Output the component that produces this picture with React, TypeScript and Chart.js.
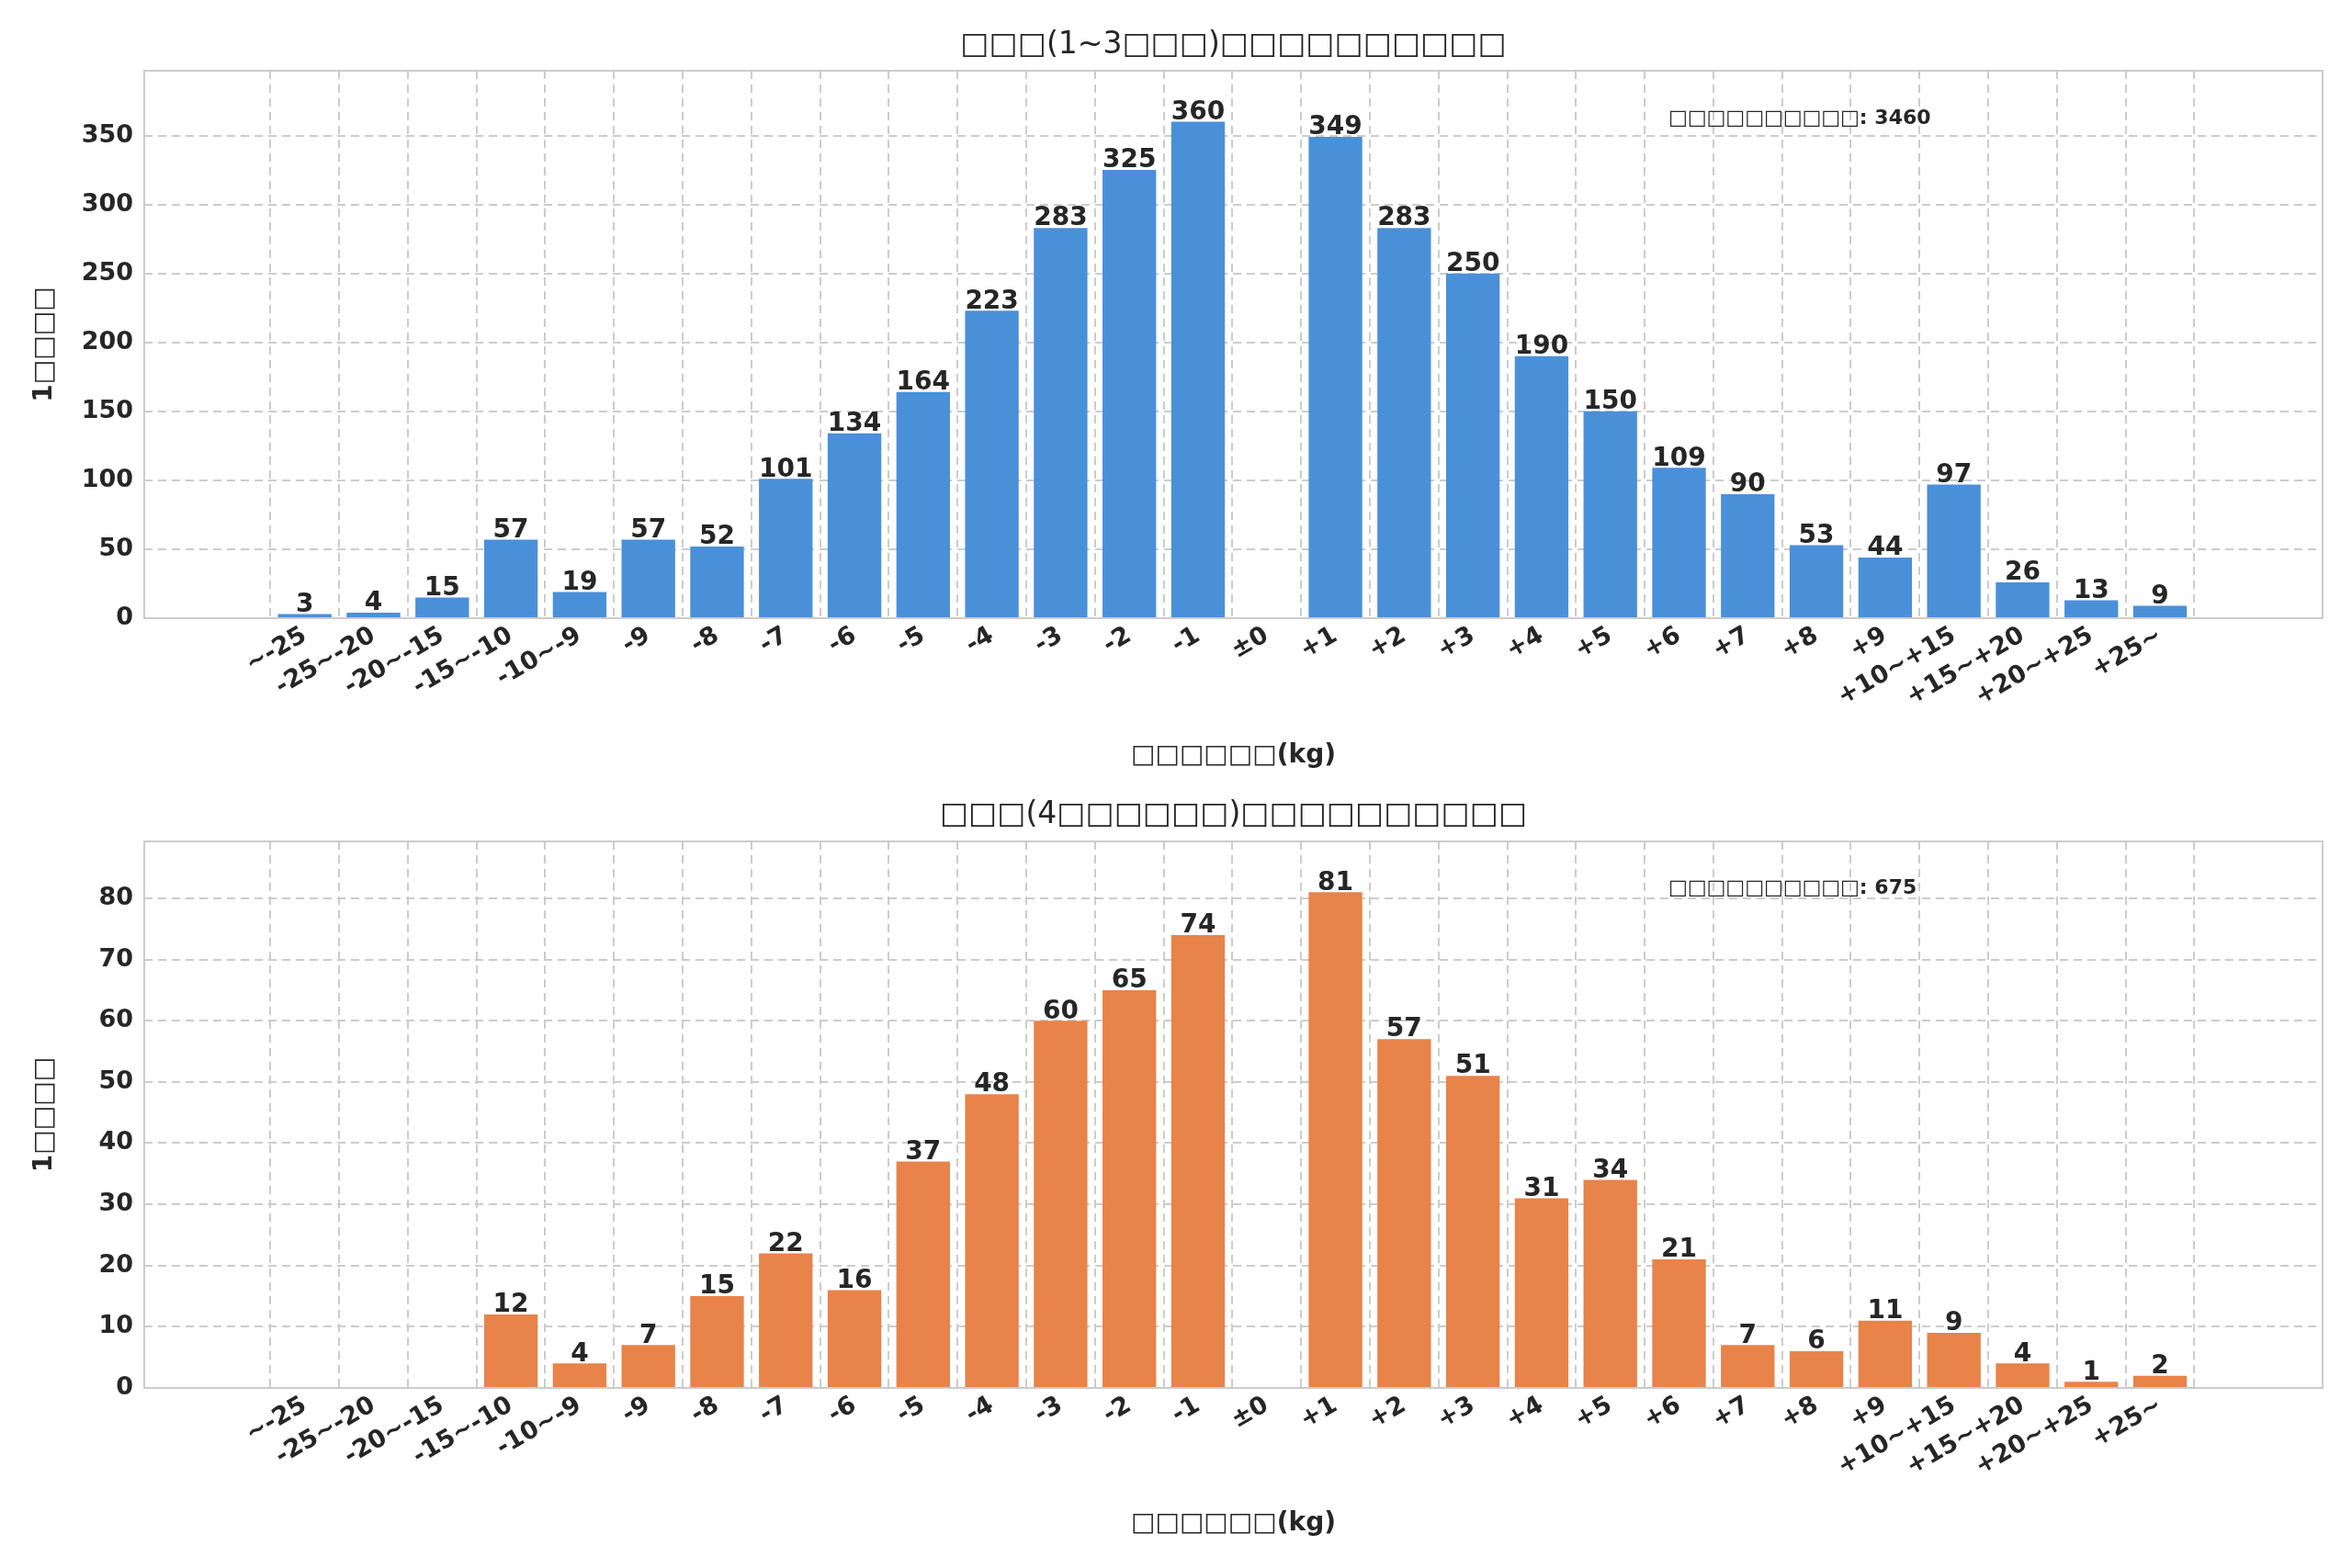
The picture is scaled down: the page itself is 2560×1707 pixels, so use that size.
import React, { useEffect, useRef } from "react";
import { Chart, registerables } from "chart.js";
Chart.register(...registerables);

const categories = ["~-25","-25~-20","-20~-15","-15~-10","-10~-9","-9","-8","-7","-6","-5","-4","-3","-2","-1","±0","+1","+2","+3","+4","+5","+6","+7","+8","+9","+10~+15","+15~+20","+20~+25","+25~"];
const topValues = [3,4,15,57,19,57,52,101,134,164,223,283,325,360,0,349,283,250,190,150,109,90,53,44,97,26,13,9];
const bottomValues = [0,0,0,12,4,7,15,22,16,37,48,60,65,74,0,81,57,51,31,34,21,7,6,11,9,4,1,2];
const topTitle = "□□□(1~3□□□)□□□□□□□□□□";
const bottomTitle = "□□□(4□□□□□□)□□□□□□□□□□";
const xTitle = "□□□□□□(kg)";
const yTitle = "1□□□□";
const topNote = "□□□□□□□□□□: 3460";
const bottomNote = "□□□□□□□□□□: 675";

const FONT = "'DejaVu Sans', sans-serif";

function makeConfig(values: number[], color: string, ymax: number, stepY: number, title: string, note: string, o: any) {
  const overlay = {
    id: "overlay",
    afterDatasetsDraw(chart: any) {
      const ctx = chart.ctx;
      const a = chart.chartArea;
      const meta = chart.getDatasetMeta(0);
      ctx.save();
      ctx.fillStyle = "#262626";
      ctx.font = `bold 28px ${FONT}`;
      ctx.textAlign = "center";
      ctx.textBaseline = "bottom";
      meta.data.forEach((el: any, i: number) => {
        if (values[i] > 0) ctx.fillText(String(values[i]), el.x, el.y + 4);
      });
      ctx.strokeStyle = "#cccccc";
      ctx.lineWidth = 2;
      ctx.strokeRect(a.left, a.top, a.right - a.left, a.bottom - a.top);
      ctx.font = `33px ${FONT}`;
      ctx.textBaseline = "middle";
      ctx.fillText(title, (a.left + a.right) / 2, o.titleY);
      ctx.font = `bold 28px ${FONT}`;
      ctx.fillText(xTitle, (a.left + a.right) / 2, o.xTitleY);
      ctx.save();
      ctx.translate(49, (a.top + a.bottom) / 2);
      ctx.rotate(-Math.PI / 2);
      ctx.fillText(yTitle, 0, 0);
      ctx.restore();
      ctx.font = `bold 22px ${FONT}`;
      ctx.textAlign = "left";
      ctx.fillText(note, 1816, o.noteY);
      ctx.restore();
    },
  };
  return {
    type: "bar" as const,
    data: {
      datasets: [{
        data: values.map((v, i) => ({ x: i, y: v })),
        backgroundColor: color,
        barPercentage: 0.78,
        categoryPercentage: 1,
      }],
    },
    options: {
      animation: false,
      responsive: false,
      layout: { padding: { top: o.top, right: 32, left: 0, bottom: 0 } },
      plugins: { legend: { display: false }, tooltip: { enabled: false } },
      scales: {
        x: {
          type: "linear",
          min: -1.77,
          max: 28.8,
          afterBuildTicks: (s: any) => { s.ticks = categories.map((_, i) => ({ value: i })); },
          afterFit: (s: any) => { s.height = o.xH; },
          ticks: {
            autoSkip: false,
            maxRotation: 30,
            minRotation: 30,
            color: "#262626",
            font: { family: FONT, size: 27, weight: "bold" },
            callback: (v: any) => categories[v] ?? "",
          },
          grid: { color: "#cccccc", lineWidth: 2, drawTicks: false },
          border: { display: false, dash: [9, 6] },
        },
        y: {
          min: 0,
          max: ymax,
          afterFit: (s: any) => { s.width = 157; },
          afterBuildTicks: (s: any) => {
            const t = [];
            for (let v = 0; v <= ymax; v += stepY) t.push({ value: v });
            s.ticks = t;
          },
          ticks: { color: "#262626", padding: 12, font: { family: FONT, size: 27, weight: "bold" } },
          grid: { color: "#cccccc", lineWidth: 2, drawTicks: false },
          border: { display: false, dash: [9, 6] },
        },
      },
    },
    plugins: [overlay],
  };
}

function Panel({ values, color, ymax, step, title, note, o, h }: any) {
  const ref = useRef<HTMLCanvasElement>(null);
  useEffect(() => {
    const c = new Chart(ref.current!, makeConfig(values, color, ymax, step, title, note, o) as any);
    return () => c.destroy();
  }, []);
  return <canvas ref={ref} width={2560} height={h} style={{ display: "block", width: 2560, height: h }} />;
}

export default function App() {
  useEffect(() => { document.body.style.margin = "0"; document.body.style.background = "#fff"; }, []);
  return (
    <div style={{ width: 2560, height: 1707, background: "#fff" }}>
      <Panel values={topValues} color="#4a90d9" ymax={397} step={50} title={topTitle} note={topNote} h={853}
        o={{ top: 77, xH: 180, titleY: 49, xTitleY: 823, noteY: 129 }} />
      <Panel values={bottomValues} color="#e8834a" ymax={89.3} step={10} title={bottomTitle} note={bottomNote} h={854}
        o={{ top: 63, xH: 196, titleY: 34, xTitleY: 806, noteY: 114 }} />
    </div>
  );
}
